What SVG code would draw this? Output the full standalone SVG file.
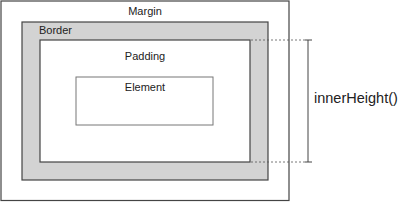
<svg xmlns="http://www.w3.org/2000/svg" width="400" height="202" viewBox="0 0 400 202">
<style>
.lbl{font-family:"Liberation Sans",Arial,sans-serif;font-size:11px;fill:#222}
.box{stroke:#444;stroke-width:1.2}
.dash{stroke:#555;stroke-width:0.8;stroke-dasharray:2,2;fill:none}
.dim{stroke:#444;stroke-width:1;fill:none}
</style>
<rect width="400" height="202" fill="#fff"/>
<g id="margin">
<rect class="box" x="1" y="1" width="288" height="199.5" fill="#fff"/>
<text class="lbl" x="145" y="15" text-anchor="middle">Margin</text>
</g>
<g id="border">
<rect class="box" x="22" y="22" width="246" height="158" fill="#d3d3d3"/>
<text class="lbl" x="39" y="34">Border</text>
</g>
<g id="padding">
<rect class="box" x="40" y="40" width="210" height="122" fill="#fff"/>
<text class="lbl" x="145" y="60" text-anchor="middle">Padding</text>
</g>
<g id="element">
<rect x="76" y="77" width="137" height="48" fill="#fff" stroke="#777" stroke-width="1"/>
<text class="lbl" x="145" y="91" text-anchor="middle">Element</text>
</g>
<g id="connectors">
<line class="dash" x1="251" y1="40" x2="305" y2="40"/>
<line class="dash" x1="251" y1="162" x2="305" y2="162"/>
<line class="dim" x1="305" y1="40" x2="312" y2="40"/>
<line class="dim" x1="305" y1="162" x2="312" y2="162"/>
<line class="dim" x1="308" y1="40" x2="308" y2="162"/>
</g>
<g id="innerHeight">
<text x="314" y="103" font-family="'Liberation Sans',Arial,sans-serif" font-size="14.5" fill="#222">innerHeight()</text>
</g>
</svg>
